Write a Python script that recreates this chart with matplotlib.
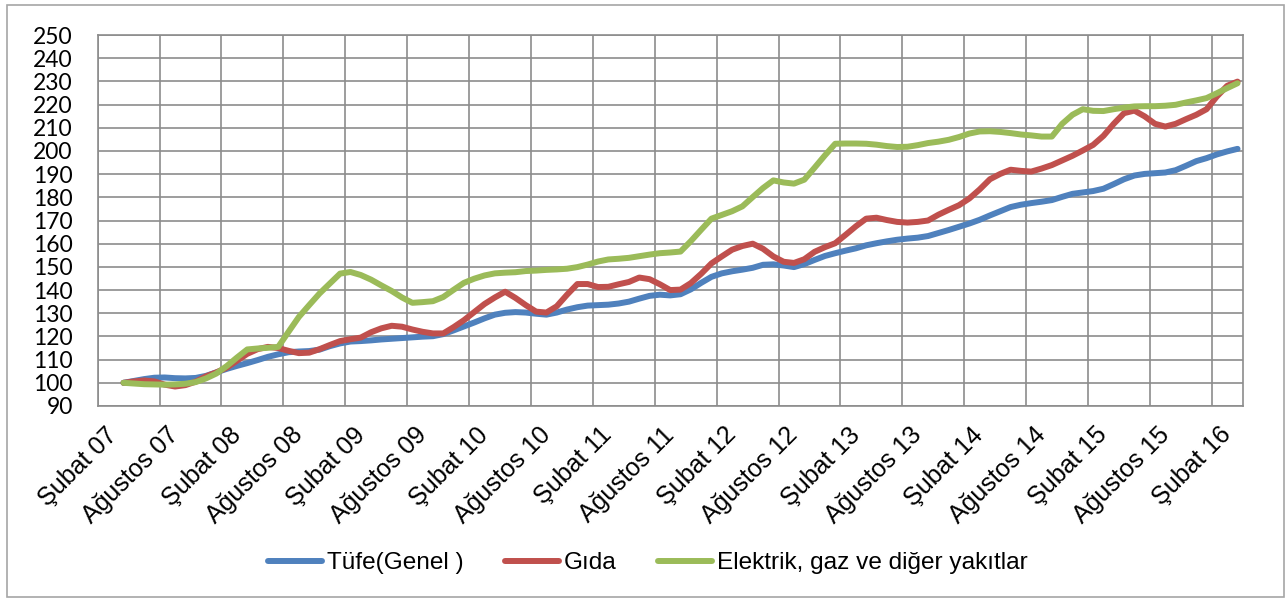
import matplotlib
matplotlib.use('Agg')
import matplotlib.pyplot as plt
import matplotlib.transforms as mtransforms
from matplotlib.patches import Rectangle
import numpy as np

# tick labels every 6 months, starting at Şubat 07
x_labels = ['Şubat 07', 'Ağustos 07', 'Şubat 08', 'Ağustos 08', 'Şubat 09',
            'Ağustos 09', 'Şubat 10', 'Ağustos 10', 'Şubat 11', 'Ağustos 11',
            'Şubat 12', 'Ağustos 12', 'Şubat 13', 'Ağustos 13', 'Şubat 14',
            'Ağustos 14', 'Şubat 15', 'Ağustos 15', 'Şubat 16']

# monthly series, first value is two months after Şubat 07
tufe = [100.0, 100.8, 101.6, 102.2, 102.3, 102.0, 101.9, 102.1, 103.0, 104.5,
        106.0, 107.3, 108.5, 109.8, 111.2, 112.3, 113.2, 113.5, 113.7, 114.3,
        115.8, 117.0, 117.8, 118.0, 118.3, 118.7, 119.0, 119.3, 119.6, 119.9,
        120.1, 121.0, 122.6, 124.3, 126.0, 127.8, 129.4, 130.2, 130.5, 130.3,
        129.8, 129.4, 130.3, 131.6, 132.6, 133.3, 133.5, 133.7, 134.2, 135.0,
        136.3, 137.5, 138.0, 137.7, 138.2, 140.3, 143.1, 145.7, 147.2, 148.1,
        148.8, 149.6, 150.9, 151.1, 150.6, 149.9, 151.2, 153.0, 154.7, 155.9,
        157.0, 158.0, 159.3, 160.2, 161.0, 161.7, 162.2, 162.6, 163.3, 164.6,
        165.9, 167.3, 168.7, 170.3, 172.2, 174.0, 175.8, 176.8, 177.5, 178.1,
        178.8, 180.2, 181.5, 182.1, 182.7, 183.7, 185.7, 187.8, 189.4, 190.1,
        190.4, 190.7, 191.7, 193.6, 195.6, 196.9, 198.5, 199.8, 200.9]

gida = [100.0, 100.6, 101.0, 100.6, 99.2, 98.4, 99.0, 100.5, 102.8, 104.5,
        106.5, 109.5, 112.5, 114.5, 115.5, 115.0, 113.8, 112.8, 113.0, 114.5,
        116.3, 118.0, 118.8, 119.5, 121.8, 123.5, 124.6, 124.2, 123.0, 122.0,
        121.3, 121.3, 124.0, 127.0, 130.5, 134.0, 136.8, 139.3, 136.6, 133.5,
        130.7, 130.3, 133.0, 138.0, 142.6, 142.6, 141.3, 141.4, 142.5, 143.5,
        145.4, 144.7, 142.5, 140.0, 140.2, 143.0, 147.0, 151.5, 154.5, 157.4,
        159.0, 160.0, 157.8, 154.5, 152.2, 151.7, 153.3, 156.5, 158.5, 160.2,
        163.8, 167.5, 170.8, 171.2, 170.2, 169.4, 169.1, 169.4, 170.0, 172.5,
        174.6, 176.6, 179.5, 183.4, 187.8, 190.1, 191.9, 191.4, 191.1, 192.4,
        193.9, 195.9, 197.9, 200.2, 202.6, 206.5, 211.7, 216.3, 217.4, 214.9,
        211.7, 210.5, 211.7, 213.7, 215.6, 218.0, 223.5, 228.1, 229.9]

enerji = [100.0, 99.7, 99.4, 99.3, 99.2, 99.3, 99.6, 100.3, 101.9, 104.0,
          107.2, 110.9, 114.4, 114.8, 115.1, 115.5, 122.0, 128.4, 133.5, 138.5,
          142.8, 147.1, 147.8, 146.5, 144.5, 142.0, 139.6, 136.8, 134.5, 134.8,
          135.2, 137.0, 140.1, 143.1, 144.9, 146.3, 147.2, 147.5, 147.7, 148.2,
          148.4, 148.7, 148.9, 149.2, 149.9, 151.0, 152.3, 153.2, 153.5, 153.9,
          154.6, 155.3, 155.9, 156.2, 156.6, 161.1, 166.0, 170.8, 172.4, 174.0,
          176.1, 180.1, 184.0, 187.3, 186.4, 185.9, 187.6, 192.8, 198.1, 203.1,
          203.2, 203.2, 203.1, 202.7, 202.1, 201.7, 201.8, 202.5, 203.4, 204.0,
          204.8, 206.0, 207.5, 208.4, 208.5, 208.2, 207.7, 207.1, 206.7, 206.2,
          206.2, 211.7, 215.6, 218.0, 217.3, 217.2, 218.0, 218.7, 219.2, 219.3,
          219.3, 219.5, 219.9, 220.9, 221.8, 222.8, 224.9, 227.1, 229.2]

months = np.arange(2, 2 + len(tufe))

W, H = 1286, 599
fig = plt.figure(figsize=(W / 100, H / 100), dpi=100)
ax = fig.add_axes([97.7 / W, 1 - 406 / H, (1242.7 - 97.7) / W, (406 - 35) / H])

lw = 4.3
ax.plot(months, tufe, color='#4F81BD', lw=lw, solid_joinstyle='round',
        solid_capstyle='round', label='Tüfe(Genel )', zorder=3)
ax.plot(months, gida, color='#C0504D', lw=lw, solid_joinstyle='round',
        solid_capstyle='round', label='Gıda', zorder=4)
ax.plot(months, enerji, color='#9BBB59', lw=lw, solid_joinstyle='round',
        solid_capstyle='round', label='Elektrik, gaz ve diğer yakıtlar', zorder=5)

ax.set_xlim(-0.5, 110.5)
ax.set_ylim(90, 250)
ax.set_yticks(np.arange(90, 251, 10))
ax.set_xticks(np.arange(0, 6 * len(x_labels), 6))
ax.set_xticks(np.arange(-0.5, 111, 6), minor=True)
ax.set_xticklabels(x_labels)

gcol = '#8c8c8c'
ax.grid(True, which='major', axis='y', color=gcol, lw=1.2)
ax.grid(True, which='minor', axis='x', color=gcol, lw=1.2)
ax.set_axisbelow(True)
for s in ax.spines.values():
    s.set_color(gcol)
    s.set_linewidth(1.2)

ax.tick_params(which='both', length=0)
ax.tick_params(axis='y', pad=18)
ax.tick_params(axis='x', pad=12)
for lbl in ax.get_yticklabels():
    lbl.set_fontfamily('Lato')
    lbl.set_fontsize(16.5)
offset = mtransforms.ScaledTranslation(2 / 100, 0, fig.dpi_scale_trans)
for lbl in ax.get_xticklabels():
    lbl.set_fontfamily('Liberation Sans')
    lbl.set_fontsize(18)
    lbl.set_rotation(45)
    lbl.set_ha('right')
    lbl.set_va('top')
    lbl.set_rotation_mode('anchor')
    lbl.set_transform(lbl.get_transform() + offset)

fig.legend(loc='center', bbox_to_anchor=(648 / W, 1 - 563 / H), ncol=3,
           frameon=False, handlelength=2.2, handletextpad=0.2,
           columnspacing=1.7, prop={'family': 'Liberation Sans', 'size': 17.6})

fig.patches.append(Rectangle((6.5 / W, 2 / H), (1284 - 6.5) / W, (597 - 5) / H,
                             transform=fig.transFigure, fill=False,
                             edgecolor='#a6a6a6', lw=1.2))

fig.savefig('out.png', dpi=100)
